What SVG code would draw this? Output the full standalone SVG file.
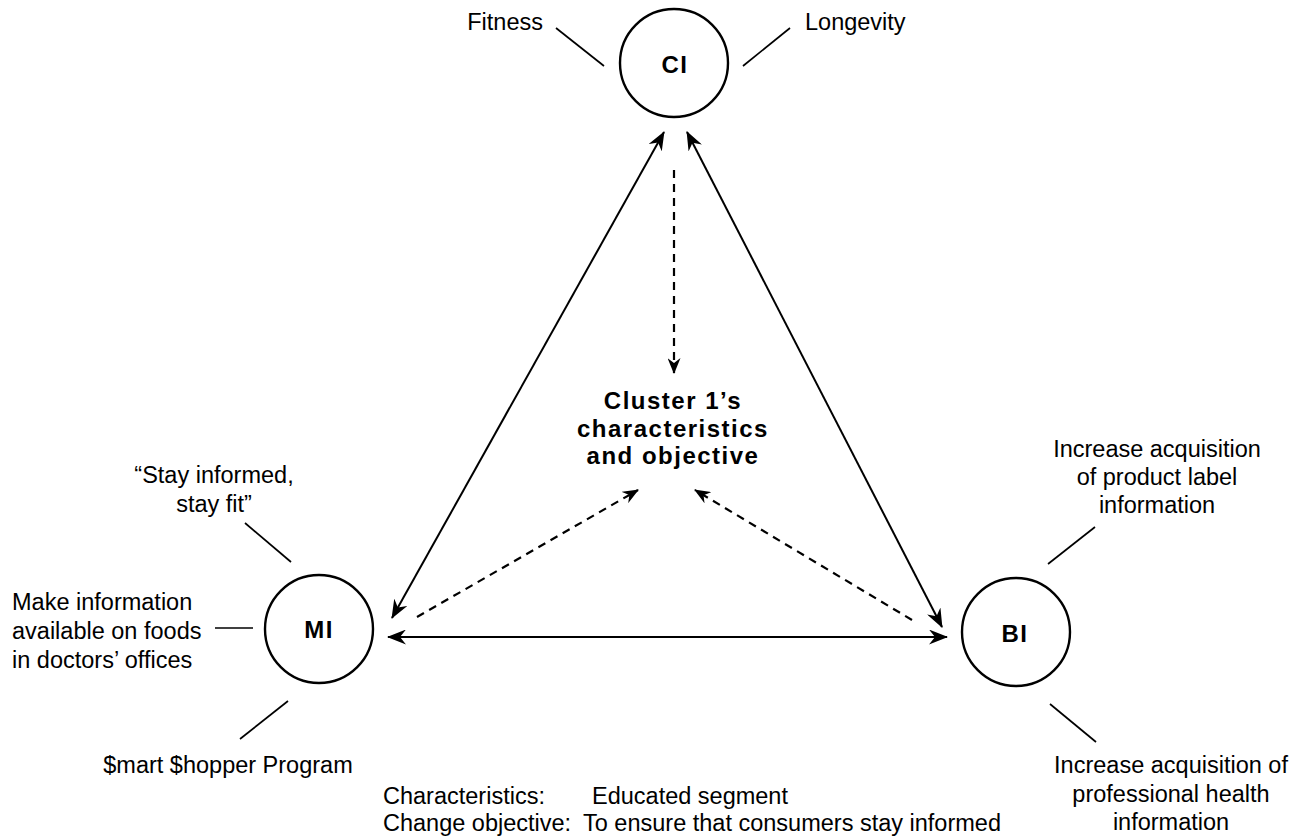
<svg xmlns="http://www.w3.org/2000/svg" width="1301" height="839" viewBox="0 0 1301 839">
<defs>
<style>
.t{font-family:"Liberation Sans",Arial,sans-serif;font-size:23.5px;fill:#000}
.c{text-anchor:middle}
.b{font-weight:bold;font-size:24px;letter-spacing:1.5px}
.node{fill:#fff;stroke:#000;stroke-width:2.4}
.ln{stroke:#000;stroke-width:1.7;fill:none}
.ar{stroke:#000;stroke-width:2;fill:none}
.da{stroke:#000;stroke-width:2.2;fill:none;stroke-dasharray:8,6}
</style>
<marker id="ah" viewBox="0 0 19 15" refX="18" refY="7.5" markerWidth="19" markerHeight="15" markerUnits="userSpaceOnUse" orient="auto-start-reverse">
<path d="M0,0 L19,7.5 L0,15 L6,7.5 z" fill="#000"/>
</marker>
<marker id="ahs" viewBox="0 0 16 13" refX="15" refY="6.5" markerWidth="16" markerHeight="13" markerUnits="userSpaceOnUse" orient="auto">
<path d="M0,0 L16,6.5 L0,13 L5,6.5 z" fill="#000"/>
</marker>
</defs>
<rect width="1301" height="839" fill="#fff"/>
<g id="connectors">
<line class="ar" x1="664" y1="132" x2="392" y2="618" marker-start="url(#ah)" marker-end="url(#ah)"/>
<line class="ar" x1="687" y1="132" x2="942" y2="627" marker-start="url(#ah)" marker-end="url(#ah)"/>
<line class="ar" x1="388" y1="637" x2="947" y2="637" marker-start="url(#ah)" marker-end="url(#ah)"/>
<line class="da" x1="674" y1="170" x2="674" y2="373" marker-end="url(#ahs)"/>
<line class="da" x1="417" y1="617" x2="638" y2="490" marker-end="url(#ahs)"/>
<line class="da" x1="912" y1="620" x2="695" y2="490" marker-end="url(#ahs)"/>
<line class="ln" x1="556" y1="28" x2="604" y2="66"/>
<line class="ln" x1="743" y1="66" x2="790" y2="28"/>
<line class="ln" x1="245" y1="523" x2="291" y2="562"/>
<line class="ln" x1="215" y1="628" x2="253" y2="628"/>
<line class="ln" x1="240" y1="739" x2="288" y2="701"/>
<line class="ln" x1="1048" y1="564" x2="1095" y2="527"/>
<line class="ln" x1="1050" y1="704" x2="1096" y2="742"/>
</g>
<g id="node-ci">
<circle class="node" cx="674" cy="63" r="54"/>
<text class="t c b" x="675" y="73">CI</text>
</g>
<g id="node-mi">
<circle class="node" cx="319" cy="629" r="54"/>
<text class="t c b" x="319" y="638">MI</text>
</g>
<g id="node-bi">
<circle class="node" cx="1016" cy="632" r="54"/>
<text class="t c b" x="1015" y="642">BI</text>
</g>
<g id="node-cluster">
<text class="t c b" x="673" y="409">Cluster 1’s</text>
<text class="t c b" x="673" y="437">characteristics</text>
<text class="t c b" x="673" y="464">and objective</text>
</g>
<g id="label-fitness"><text class="t" x="543" y="30" text-anchor="end">Fitness</text></g>
<g id="label-longevity"><text class="t" x="805" y="30">Longevity</text></g>
<g id="label-stay">
<text class="t c" x="214" y="483">“Stay informed,</text>
<text class="t c" x="214" y="512">stay fit”</text>
</g>
<g id="label-make">
<text class="t" x="12" y="610">Make information</text>
<text class="t" x="12" y="639">available on foods</text>
<text class="t" x="12" y="668">in doctors’ offices</text>
</g>
<g id="label-smart"><text class="t c" x="228" y="773">$mart $hopper Program</text></g>
<g id="label-product">
<text class="t c" x="1157" y="457">Increase acquisition</text>
<text class="t c" x="1157" y="485">of product label</text>
<text class="t c" x="1157" y="513">information</text>
</g>
<g id="label-professional">
<text class="t c" x="1171" y="773">Increase acquisition of</text>
<text class="t c" x="1171" y="802">professional health</text>
<text class="t c" x="1171" y="830">information</text>
</g>
<g id="legend">
<text class="t" x="383" y="804">Characteristics:</text>
<text class="t" x="592" y="804">Educated segment</text>
<text class="t" x="383" y="831">Change objective:</text>
<text class="t" x="583" y="831">To ensure that consumers stay informed</text>
</g>
</svg>
